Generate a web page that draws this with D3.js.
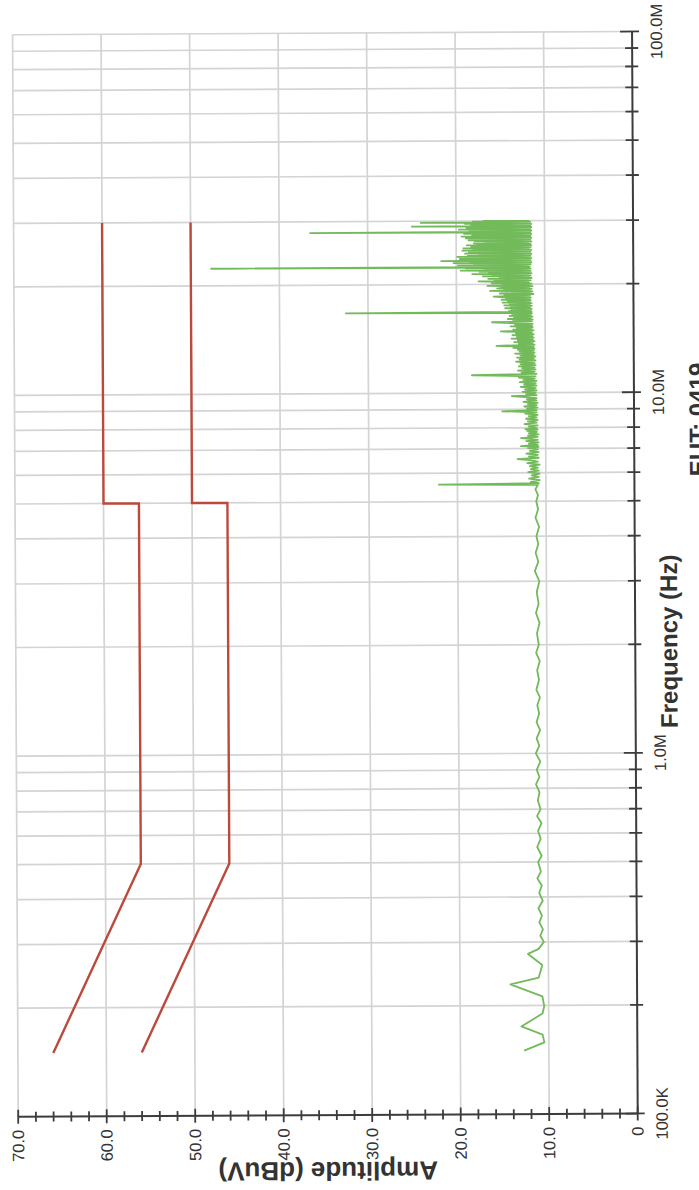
<!DOCTYPE html>
<html><head><meta charset="utf-8">
<script src="https://cdn.jsdelivr.net/npm/d3@7"></script>
<style>html,body{margin:0;padding:0;background:#fff;}svg{display:block;}</style>
</head><body>
<svg id="c" width="699" height="1190"></svg>
<script>
// ---- data ----
const ampTicks = [0, 10, 20, 30, 40, 50, 60, 70];
const ampLabels = ["0", "10.0", "20.0", "30.0", "40.0", "50.0", "60.0", "70.0"];
const freqDecades = [1e5, 1e6, 1e7, 1e8];
const freqLabels = ["100.0K", "1.0M", "10.0M", "100.0M"];
const xTitle = "Frequency (Hz)";
const yTitle = "Amplitude (dBuV)";
const subTitle = "EUT: 0419";

// limit lines [MHz, dBuV]
const qpLimit = [[0.15, 66], [0.5, 56], [5, 56], [5, 60], [30, 60]];
const avLimit = [[0.15, 56], [0.5, 46], [5, 46], [5, 50], [30, 50]];

// measured trace [MHz, dBuV]
const traceLow = [
[0.150,12.8],[0.158,10.5],[0.166,10.7],[0.175,13.1],[0.186,11.3],[0.190,10.7],[0.199,10.5],[0.212,10.7],[0.229,14.3],[0.239,11.1],[0.259,10.7],[0.278,12.3],[0.287,11.1],[0.300,10.5],[0.312,10.9],[0.325,10.6],[0.340,11.0],[0.355,10.7],[0.372,11.1],[0.390,10.6],[0.41,11.0],[0.43,10.7],[0.45,11.2],[0.47,10.8],[0.50,11.1],[0.52,10.7],[0.55,11.2],[0.58,10.8],[0.61,11.1],[0.64,10.7],[0.67,11.2],[0.70,10.8],[0.74,11.1],[0.78,10.9],[0.82,11.3],[0.86,10.9],[0.90,11.2],[0.95,10.8],[1.0,11.3],[1.05,10.9],[1.1,11.2],[1.16,10.8],[1.22,11.2],[1.29,10.9],[1.36,11.1],[1.43,10.8],[1.5,11.2],[1.6,10.9],[1.7,11.1],[1.8,10.8],[1.9,11.2],[2.0,10.9],[2.15,11.1],[2.3,10.8],[2.45,11.2],[2.6,10.9],[2.8,11.1],[3.0,10.8],[3.2,11.3],[3.4,10.9],[3.6,11.2],[3.8,10.9],[4.0,11.1],[4.25,10.8],[4.5,11.2],[4.75,10.9],[5.0,11.1],[5.2,10.9],[5.4,11.2]
];
const traceMid = [
[5.55,10.9],[5.58,22.1],[5.61,10.8],[5.66,11.7],[5.72,10.7],[5.78,11.9],[5.84,10.8],[5.9,11.6],[5.96,10.7],[6.02,12.0],[6.08,10.8],[6.14,11.7],[6.2,10.9],[6.26,11.8],[6.32,10.7],[6.38,12.1],[6.44,10.9],[6.5,11.8],[6.55,13.2],[6.6,10.8],[6.66,11.9],[6.72,10.9],[6.78,12.2],[6.84,10.8],[6.9,11.8],[6.96,10.9],[7.02,12.0],[7.08,10.8],[7.11,12.8],[7.16,10.9],[7.22,11.9],[7.28,10.8],[7.34,12.2],[7.4,10.9],[7.45,11.8],[7.49,12.8],[7.54,10.9],[7.6,12.0],[7.66,10.8],[7.72,11.9],[7.78,11.0],[7.84,12.1],[7.9,10.9],[7.93,12.3],[7.98,11.0],[8.05,11.9],[8.12,10.9],[8.19,12.4],[8.26,11.0],[8.33,12.0],[8.4,10.9],[8.47,12.2],[8.54,11.0],[8.61,11.9],[8.68,10.9],[8.75,12.3],[8.82,11.0],[8.89,14.9],[8.95,11.0],[9.02,12.1],[9.09,10.9],[9.16,12.4],[9.23,11.0],[9.3,12.0],[9.37,10.9],[9.44,12.5],[9.51,11.0],[9.58,12.1],[9.65,11.0],[9.72,12.3],[9.79,13.8],[9.85,11.0],[9.92,12.2],[9.99,11.1],
[10.06,12.6],[10.14,11.0],[10.22,12.3],[10.3,11.1],[10.38,12.8],[10.46,11.0],[10.54,12.4],[10.62,11.1],[10.7,12.9],[10.78,11.0],[10.86,12.5],[10.94,11.2],[11.02,13.0],[11.1,11.1],[11.2,18.3],[11.28,11.0],[11.36,12.7],[11.44,11.2],[11.52,13.1],[11.6,11.1],[11.68,12.6],[11.76,11.2],[11.84,13.0],[11.92,11.1],[12.0,12.8],[12.08,11.2],[12.14,12.5],[12.2,13.3],[12.28,11.1],[12.36,12.9],[12.44,11.3],[12.52,13.2],[12.6,11.1],[12.68,12.8],[12.76,11.3],[12.84,13.4],[12.92,11.2],[13.0,12.9],[13.08,11.3],[13.16,13.1],[13.24,11.2],[13.32,13.6],[13.4,11.3],[13.5,15.5],[13.58,11.2],[13.66,13.0],[13.74,11.4],[13.82,13.5],[13.9,11.2],[13.98,13.1],[14.06,11.4],[14.14,13.8],[14.22,11.3],[14.3,13.2],[14.38,11.4],[14.46,13.7],[14.54,11.3],[14.62,13.3],[14.7,11.5],[14.8,15.0],[14.88,11.3],[14.96,13.6],[15.04,11.5],[15.12,13.2],[15.2,11.4],[15.28,13.9],[15.36,11.5],[15.44,13.4],[15.52,11.4],[15.6,14.0],[15.7,16.0],[15.78,11.5],[15.86,13.6],[15.94,11.4],[16.02,14.2],[16.1,11.6],[16.18,13.5],[16.26,11.4],[16.34,14.0],[16.42,11.6],[16.5,13.7],[16.58,11.5],[16.64,14.3],[16.7,32.5],[16.76,11.5],[16.84,14.1],[16.92,11.6],[17.0,13.8],[17.08,11.5],[17.16,14.5],[17.24,11.7],[17.32,13.9],[17.4,11.5],[17.48,14.6],[17.56,11.7],[17.64,14.0],[17.72,11.5],[17.8,14.8],[17.88,11.7],[17.96,14.2],[18.04,11.6],[18.12,14.9],[18.2,11.7],[18.28,14.4],[18.36,11.6],[18.44,15.0],[18.5,15.8],[18.58,11.7],[18.64,14.6]
];
const traceHigh = [
[18.7,14.2],[18.78,11.3],[18.86,15.1],[18.94,11.6],[19.02,13.8],[19.1,11.4],[19.18,16.2],[19.26,11.7],[19.34,14.6],[19.42,11.5],[19.5,15.4],[19.58,11.8],[19.66,15.0],[19.74,11.4],[19.82,16.5],[19.9,11.7],[19.98,14.8],[20.06,11.5],[20.14,16.0],[20.22,11.8],[20.3,15.2],[20.4,17.5],[20.48,11.6],[20.56,15.7],[20.64,11.9],[20.72,16.4],[20.8,11.5],[20.88,15.1],[20.96,11.8],[21.04,17.0],[21.12,11.6],[21.2,15.9],[21.28,11.9],[21.36,18.2],[21.44,11.5],[21.52,16.3],[21.6,11.8],[21.68,17.4],[21.76,11.6],[21.84,19.5],[21.92,11.9],[22.0,16.8],[22.08,11.6],[22.16,18.9],[22.24,11.8],[22.3,47.7],[22.36,11.7],[22.44,17.6],[22.52,11.9],[22.6,19.8],[22.68,11.6],[22.76,18.0],[22.84,11.8],[22.92,20.3],[23.0,11.5],[23.08,18.4],[23.16,11.8],[23.22,21.7],[23.3,11.6],[23.38,17.9],[23.46,11.9],[23.54,19.6],[23.62,11.5],[23.7,18.2],[23.78,11.8],[23.86,19.9],[23.94,11.6],[24.02,18.7],[24.1,11.9],[24.18,17.4],[24.26,11.5],[24.34,19.0],[24.42,11.8],[24.5,18.6],[24.58,11.6],[24.66,17.8],[24.74,11.9],[24.82,19.3],[24.9,11.5],[24.98,18.1],[25.06,11.8],[25.14,17.5],[25.2,19.2],[25.28,11.6],[25.36,18.3],[25.44,11.9],[25.52,17.1],[25.6,11.5],[25.68,18.8],[25.76,11.8],[25.84,17.6],[25.92,11.6],[26.0,18.0],[26.08,11.9],[26.2,16.7],[26.28,11.5],[26.36,17.9],[26.44,11.8],[26.52,18.6],[26.6,11.6],[26.68,17.3],[26.76,11.9],[26.84,18.9],[26.92,11.5],[27.0,17.7],[27.08,11.8],[27.16,19.4],[27.24,11.6],[27.32,18.2],[27.4,11.9],[27.48,17.5],[27.56,11.5],[27.64,19.1],[27.72,11.8],[27.8,17.9],[27.86,11.6],[27.92,36.5],[27.98,11.7],[28.06,18.5],[28.14,11.5],[28.22,17.2],[28.3,11.8],[28.38,19.7],[28.46,11.6],[28.54,18.0],[28.62,11.9],[28.7,18.8],[28.78,11.5],[28.86,17.6],[28.94,11.8],[29.0,25.0],[29.06,11.6],[29.14,18.3],[29.22,11.9],[29.3,17.8],[29.38,11.5],[29.46,19.0],[29.54,11.8],[29.62,17.9],[29.7,24.0],[29.78,11.6],[29.86,18.1],[29.94,11.8],[30.0,17.0]
];

// ---- drawing ----
const W = 1190, H = 699;               // landscape chart, rotated onto the portrait page
const svg = d3.select("#c");
const page = svg.append("g").attr("transform", "rotate(-0.3,349,595)");
const g = page.append("g").attr("transform", `translate(0,${W}) rotate(-90)`);

const x = d3.scaleLog().domain([1e5, 1e8]).range([75, 1157]);
const y = d3.scaleLinear().domain([0, 70]).range([635, 15.5]);

const font = "'Liberation Sans', Arial, Helvetica, sans-serif";
const gridC = "#d4d4d4", axisC = "#3c3c3c", textC = "#333";

const freqTicks = x.ticks();
// gridlines
g.append("g").selectAll("line").data(freqTicks.filter(f => f > 1e5)).join("line")
  .attr("x1", d => x(d)).attr("x2", d => x(d)).attr("y1", y(0)).attr("y2", y(70))
  .attr("stroke", gridC).attr("stroke-width", 1.7);
g.append("g").selectAll("line").data(ampTicks.filter(a => a > 0)).join("line")
  .attr("x1", x(1e5)).attr("x2", x(1e8)).attr("y1", d => y(d)).attr("y2", d => y(d))
  .attr("stroke", gridC).attr("stroke-width", 1.7);

// limit lines
const line = d3.line().x(d => x(d[0] * 1e6)).y(d => y(d[1]));
[qpLimit, avLimit].forEach(L => g.append("path").datum(L).attr("d", line)
  .attr("fill", "none").attr("stroke", "#bb4a3c").attr("stroke-width", 2.4).attr("stroke-linejoin", "miter"));

// trace
const trace = traceLow.concat(traceMid, traceHigh);
g.append("path").datum(trace).attr("d", line)
  .attr("fill", "none").attr("stroke", "#72ba5a").attr("stroke-width", 1.8).attr("stroke-linejoin", "round");

// frequency axis (page right)
const fAx = g.append("g");
fAx.append("line").attr("x1", x(1e5)).attr("x2", x(1e8)).attr("y1", y(0)).attr("y2", y(0))
  .attr("stroke", axisC).attr("stroke-width", 2);
fAx.selectAll("line.t").data(freqTicks).join("line").attr("class", "t")
  .attr("x1", d => x(d)).attr("x2", d => x(d))
  .attr("y1", d => y(0) - (freqDecades.includes(d) ? 12 : 7))
  .attr("y2", d => y(0) + (freqDecades.includes(d) ? 7 : 6))
  .attr("stroke", axisC).attr("stroke-width", 1.8);
fAx.selectAll("text").data(freqDecades).join("text")
  .attr("x", d => x(d)).attr("y", y(0) + 30).attr("text-anchor", "middle")
  .attr("font-family", font).attr("font-size", 16.5).attr("fill", textC)
  .text((d, i) => freqLabels[i]);

// amplitude axis (page bottom)
const aAx = g.append("g");
aAx.append("line").attr("x1", x(1e5)).attr("x2", x(1e5)).attr("y1", y(0)).attr("y2", y(70))
  .attr("stroke", axisC).attr("stroke-width", 2);
aAx.selectAll("line.t").data(y.ticks(35)).join("line").attr("class", "t")
  .attr("y1", d => y(d)).attr("y2", d => y(d))
  .attr("x1", d => x(1e5) - (d % 10 === 0 ? 7 : 5))
  .attr("x2", d => x(1e5) + (d % 10 === 0 ? 7 : 5))
  .attr("stroke", axisC).attr("stroke-width", 1.8);
aAx.selectAll("text").data(ampTicks).join("text")
  .attr("x", x(1e5) - 13).attr("y", d => y(d)).attr("dy", "0.35em").attr("text-anchor", "end")
  .attr("font-family", font).attr("font-size", 16.5).attr("fill", textC)
  .text((d, i) => ampLabels[i]);

// titles
g.append("text").attr("x", W - 643).attr("y", 677).attr("text-anchor", "middle")
  .attr("font-family", font).attr("font-weight", "bold").attr("font-size", 24).attr("fill", textC)
  .text(xTitle);
g.append("text").attr("x", W - 478).attr("y", 707).attr("text-anchor", "start")
  .attr("font-family", font).attr("font-weight", "bold").attr("font-size", 24).attr("fill", textC)
  .text(subTitle);
g.append("text").attr("transform", `translate(28,${(y(0) + y(70)) / 2}) rotate(-90)`)
  .attr("text-anchor", "middle")
  .attr("font-family", font).attr("font-weight", "bold").attr("font-size", 26).attr("fill", textC)
  .text(yTitle);
</script>
</body></html>
